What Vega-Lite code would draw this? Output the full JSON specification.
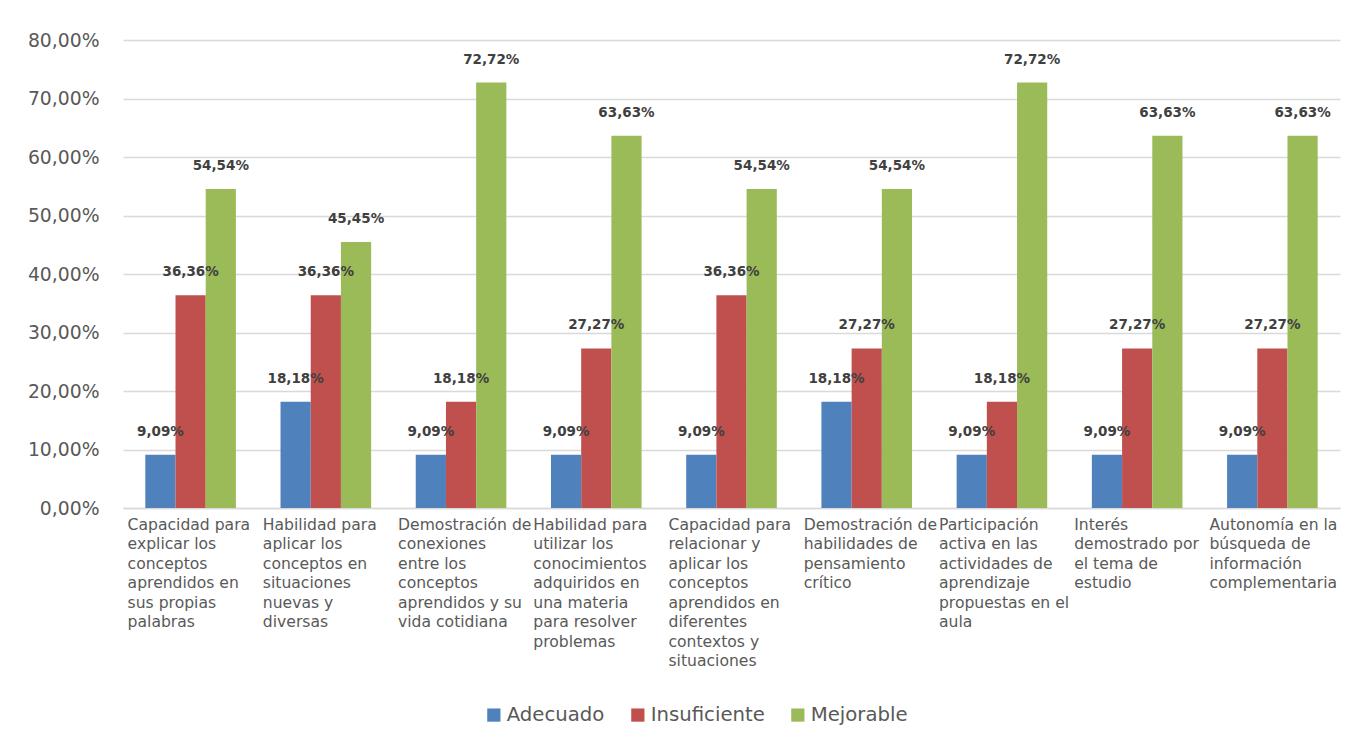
{
  "$schema": "https://vega.github.io/schema/vega-lite/v6.json",
  "autosize": {"type": "none"},
  "width": 1217,
  "height": 468,
  "padding": {"left": 123, "top": 40, "right": 22, "bottom": 239},
  "background": "white",
  "config": {
    "view": {"stroke": null},
    "font": "DejaVu Sans",
    "locale": {
      "number": {"decimal": ",", "thousands": ".", "grouping": [3], "currency": ["", " €"]}
    }
  },
  "data": {
    "values": [
      {"criterio": "Capacidad para\nexplicar los\nconceptos\naprendidos en\nsus propias\npalabras", "nivel": "Adecuado", "valor": 0.0909},
      {"criterio": "Capacidad para\nexplicar los\nconceptos\naprendidos en\nsus propias\npalabras", "nivel": "Insuficiente", "valor": 0.3636},
      {"criterio": "Capacidad para\nexplicar los\nconceptos\naprendidos en\nsus propias\npalabras", "nivel": "Mejorable", "valor": 0.5454},
      {"criterio": "Habilidad para\naplicar los\nconceptos en\nsituaciones\nnuevas y\ndiversas", "nivel": "Adecuado", "valor": 0.1818},
      {"criterio": "Habilidad para\naplicar los\nconceptos en\nsituaciones\nnuevas y\ndiversas", "nivel": "Insuficiente", "valor": 0.3636},
      {"criterio": "Habilidad para\naplicar los\nconceptos en\nsituaciones\nnuevas y\ndiversas", "nivel": "Mejorable", "valor": 0.4545},
      {"criterio": "Demostración de\nconexiones\nentre los\nconceptos\naprendidos y su\nvida cotidiana", "nivel": "Adecuado", "valor": 0.0909},
      {"criterio": "Demostración de\nconexiones\nentre los\nconceptos\naprendidos y su\nvida cotidiana", "nivel": "Insuficiente", "valor": 0.1818},
      {"criterio": "Demostración de\nconexiones\nentre los\nconceptos\naprendidos y su\nvida cotidiana", "nivel": "Mejorable", "valor": 0.7272},
      {"criterio": "Habilidad para\nutilizar los\nconocimientos\nadquiridos en\nuna materia\npara resolver\nproblemas", "nivel": "Adecuado", "valor": 0.0909},
      {"criterio": "Habilidad para\nutilizar los\nconocimientos\nadquiridos en\nuna materia\npara resolver\nproblemas", "nivel": "Insuficiente", "valor": 0.2727},
      {"criterio": "Habilidad para\nutilizar los\nconocimientos\nadquiridos en\nuna materia\npara resolver\nproblemas", "nivel": "Mejorable", "valor": 0.6363},
      {"criterio": "Capacidad para\nrelacionar y\naplicar los\nconceptos\naprendidos en\ndiferentes\ncontextos y\nsituaciones", "nivel": "Adecuado", "valor": 0.0909},
      {"criterio": "Capacidad para\nrelacionar y\naplicar los\nconceptos\naprendidos en\ndiferentes\ncontextos y\nsituaciones", "nivel": "Insuficiente", "valor": 0.3636},
      {"criterio": "Capacidad para\nrelacionar y\naplicar los\nconceptos\naprendidos en\ndiferentes\ncontextos y\nsituaciones", "nivel": "Mejorable", "valor": 0.5454},
      {"criterio": "Demostración de\nhabilidades de\npensamiento\ncrítico", "nivel": "Adecuado", "valor": 0.1818},
      {"criterio": "Demostración de\nhabilidades de\npensamiento\ncrítico", "nivel": "Insuficiente", "valor": 0.2727},
      {"criterio": "Demostración de\nhabilidades de\npensamiento\ncrítico", "nivel": "Mejorable", "valor": 0.5454},
      {"criterio": "Participación\nactiva en las\nactividades de\naprendizaje\npropuestas en el\naula", "nivel": "Adecuado", "valor": 0.0909},
      {"criterio": "Participación\nactiva en las\nactividades de\naprendizaje\npropuestas en el\naula", "nivel": "Insuficiente", "valor": 0.1818},
      {"criterio": "Participación\nactiva en las\nactividades de\naprendizaje\npropuestas en el\naula", "nivel": "Mejorable", "valor": 0.7272},
      {"criterio": "Interés\ndemostrado por\nel tema de\nestudio", "nivel": "Adecuado", "valor": 0.0909},
      {"criterio": "Interés\ndemostrado por\nel tema de\nestudio", "nivel": "Insuficiente", "valor": 0.2727},
      {"criterio": "Interés\ndemostrado por\nel tema de\nestudio", "nivel": "Mejorable", "valor": 0.6363},
      {"criterio": "Autonomía en la\nbúsqueda de\ninformación\ncomplementaria", "nivel": "Adecuado", "valor": 0.0909},
      {"criterio": "Autonomía en la\nbúsqueda de\ninformación\ncomplementaria", "nivel": "Insuficiente", "valor": 0.2727},
      {"criterio": "Autonomía en la\nbúsqueda de\ninformación\ncomplementaria", "nivel": "Mejorable", "valor": 0.6363}
    ]
  },
  "encoding": {
    "x": {
      "field": "criterio",
      "type": "nominal",
      "sort": null,
      "scale": {"paddingInner": 0.33, "paddingOuter": 0.165},
      "axis": {
        "title": null,
        "labelAngle": 0,
        "labelAlign": "left",
        "labelBaseline": "top",
        "labelOffset": -63,
        "labelPadding": 9,
        "labelFont": "DejaVu Sans",
        "labelFontSize": 15.6,
        "labelLineHeight": 19.5,
        "labelColor": "#595959",
        "labelLimit": 200,
        "labelExpr": "split(datum.value, '\\n')",
        "ticks": false,
        "domainColor": "#d9d9d9",
        "domainWidth": 1.5
      }
    },
    "xOffset": {
      "field": "nivel",
      "type": "nominal",
      "sort": ["Adecuado", "Insuficiente", "Mejorable"],
      "scale": {"paddingInner": 0, "paddingOuter": 0}
    },
    "y": {
      "field": "valor",
      "type": "quantitative",
      "scale": {"domain": [0, 0.8]},
      "axis": {
        "title": null,
        "values": [0, 0.1, 0.2, 0.3, 0.4, 0.5, 0.6, 0.7, 0.8],
        "format": ".2%",
        "labelFont": "DejaVu Sans",
        "labelFontSize": 18.8,
        "labelColor": "#595959",
        "labelPadding": 24,
        "domain": false,
        "ticks": false,
        "gridColor": "#d9d9d9",
        "gridWidth": 1.3
      }
    }
  },
  "layer": [
    {
      "mark": {"type": "bar"},
      "encoding": {
        "color": {
          "field": "nivel",
          "type": "nominal",
          "scale": {
            "domain": ["Adecuado", "Insuficiente", "Mejorable"],
            "range": ["#4F81BD", "#C0504D", "#9BBB59"]
          },
          "legend": {
            "title": null,
            "orient": "none",
            "legendX": 361,
            "legendY": 665,
            "direction": "horizontal",
            "symbolType": "square",
            "symbolSize": 175,
            "symbolStrokeWidth": 0,
            "labelFont": "DejaVu Sans",
            "labelFontSize": 19.7,
            "labelColor": "#595959",
            "labelOffset": 3,
            "columnPadding": 23
          }
        }
      }
    },
    {
      "mark": {
        "type": "text",
        "dy": -23,
        "baseline": "middle",
        "fontWeight": "bold",
        "fontSize": 13.5,
        "font": "DejaVu Sans",
        "color": "#404040"
      },
      "encoding": {
        "text": {"field": "valor", "type": "quantitative", "format": ".2%"}
      }
    }
  ]
}
